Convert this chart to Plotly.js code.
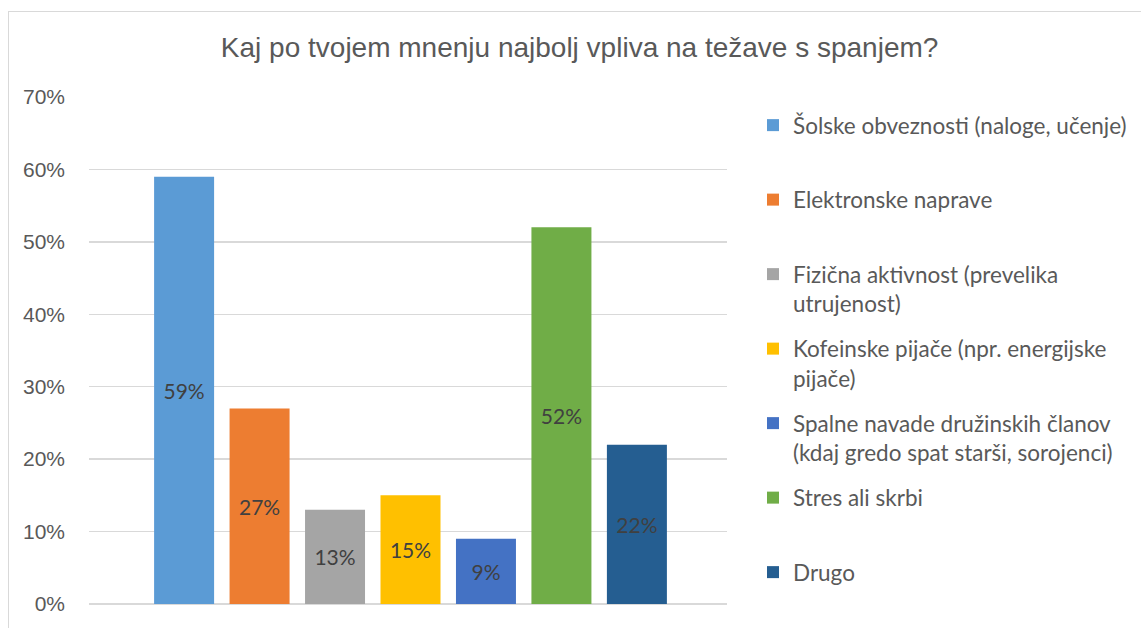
<!DOCTYPE html>
<html>
<head>
<meta charset="utf-8">
<script src="https://cdn.plot.ly/plotly-3.0.1.min.js"></script>
<style>
html,body{margin:0;padding:0;background:#fff;}
#wrap{position:relative;width:1141px;height:628px;overflow:hidden;}
#chart{position:absolute;left:0;top:0;width:1141px;height:628px;}
#frame{position:absolute;left:8px;top:11px;width:1200px;height:700px;border-left:1px solid #d9d9d9;border-top:1px solid #d9d9d9;pointer-events:none;}
</style>
</head>
<body>
<div id="wrap"><div id="chart"></div><div id="frame"></div></div>
<script>
const titleText = 'Kaj po tvojem mnenju najbolj vpliva na težave s spanjem?';
const seriesNames = [
  'Šolske obveznosti (naloge, učenje)',
  'Elektronske naprave',
  'Fizična aktivnost (prevelika<br>utrujenost)',
  'Kofeinske pijače (npr. energijske<br>pijače)',
  'Spalne navade družinskih članov<br>(kdaj gredo spat starši, sorojenci)',
  'Stres ali skrbi',
  'Drugo'
];
const seriesValues = [0.59, 0.27, 0.13, 0.15, 0.09, 0.52, 0.22];
const seriesColors = ['#5B9BD5', '#ED7D31', '#A5A5A5', '#FFC000', '#4472C4', '#70AD47', '#255E91'];
const category = ['Odgovori'];
const yTickVals = [0, 0.1, 0.2, 0.3, 0.4, 0.5, 0.6, 0.7];
const yTickText = ['0%', '10%', '20%', '30%', '40%', '50%', '60%', '70%'];

const labelFont = 'Lato, "Open Sans", sans-serif';

const traces = seriesNames.map((name, i) => ({
  type: 'bar',
  name: name.indexOf('<br>') >= 0 ? name : name + '<br>\u00a0',
  x: category,
  y: [seriesValues[i]],
  marker: {color: seriesColors[i], line: {width: 0}},
  texttemplate: '%{y:.0%}',
  textposition: 'inside',
  insidetextanchor: 'middle',
  textangle: 0,
  constraintext: 'none',
  textfont: {family: labelFont, size: 21, color: '#404040'},
  legendgroup: 'g' + i,
  hoverinfo: 'skip'
}));

const plotW = 638, plotH = 507, plotL = 89, plotT = 97;

const layout = {
  width: 1141,
  height: 628,
  margin: {l: 89, r: 414, t: 97, b: 24, pad: 0, autoexpand: false},
  paper_bgcolor: '#ffffff',
  plot_bgcolor: '#ffffff',
  barmode: 'group',
  bargap: 0.172,
  bargroupgap: 0.205,
  showlegend: true,
  title: {
    text: titleText,
    x: 0.508, xanchor: 'center', xref: 'container',
    y: 1 - 47 / 628, yanchor: 'middle', yref: 'container',
    font: {family: '"Liberation Sans", Arial, sans-serif', size: 28, color: '#595959'}
  },
  xaxis: {
    type: 'category',
    range: [-0.5 - 2.5 / plotW, 0.5 - 2.5 / plotW],
    showticklabels: false,
    showgrid: false,
    zeroline: false,
    showline: false,
    ticks: '',
    fixedrange: true
  },
  yaxis: {
    range: [0, 0.7],
    tickvals: yTickVals,
    ticktext: yTickText,
    showgrid: true,
    gridcolor: '#d9d9d9',
    gridwidth: 1.3,
    zeroline: true,
    zerolinecolor: '#d9d9d9',
    zerolinewidth: 1.3,
    showline: false,
    ticks: '',
    ticklabelstandoff: 23,
    tickfont: {family: '"Liberation Sans", Arial, sans-serif', size: 21, color: '#595959'},
    fixedrange: true,
    automargin: false
  },
  legend: {
    x: (753 - plotL) / plotW,
    xanchor: 'left',
    y: 1 - (104 - plotT) / plotH,
    yanchor: 'top',
    traceorder: 'grouped',
    tracegroupgap: 13,
    valign: 'top',
    bgcolor: 'rgba(0,0,0,0)',
    borderwidth: 0,
    font: {family: labelFont, size: 22.5, color: '#595959'}
  },
  hovermode: false
};

Plotly.newPlot('chart', traces, layout, {displayModeBar: false, staticPlot: true});
</script>
</body>
</html>
